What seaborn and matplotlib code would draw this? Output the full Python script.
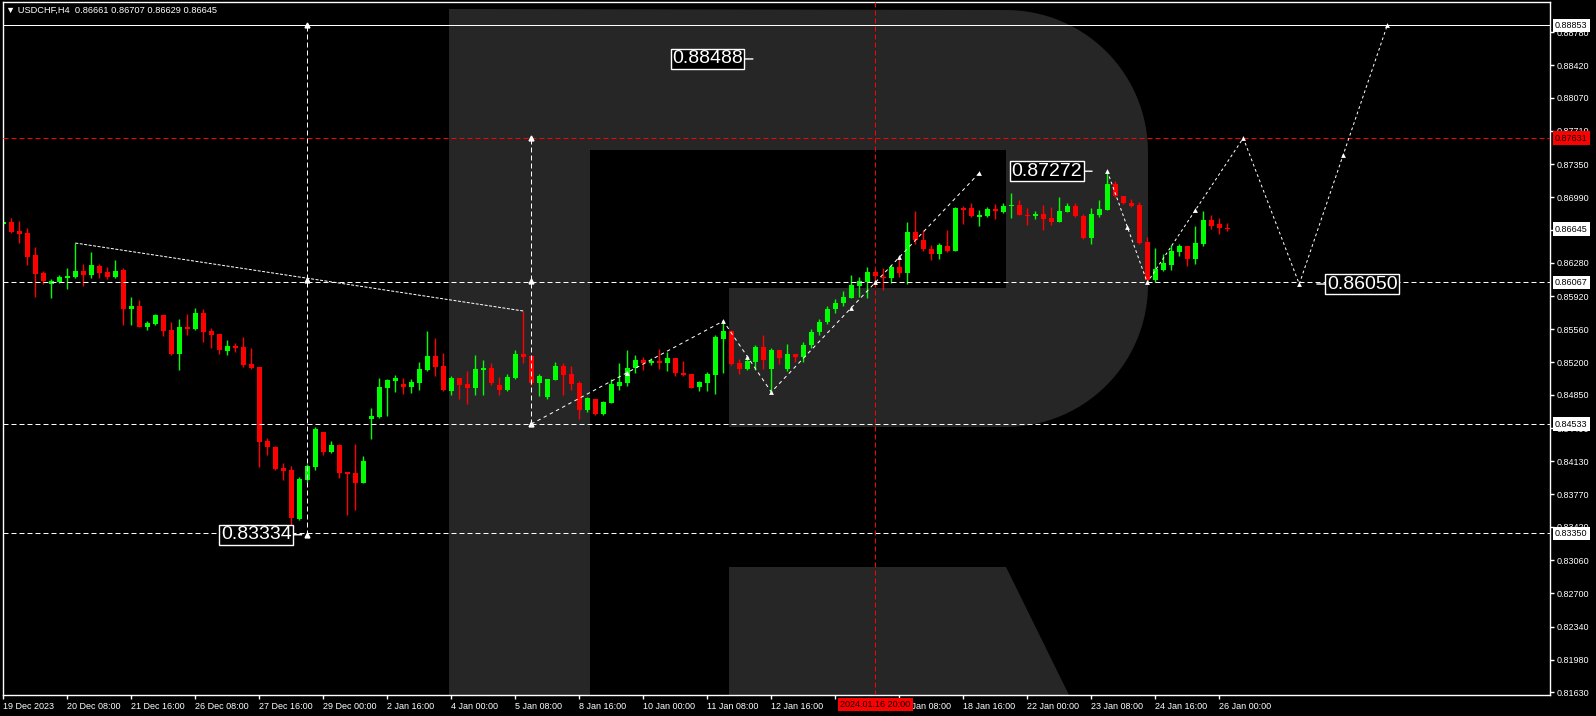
import numpy as np
import matplotlib
matplotlib.use("Agg")
import matplotlib.pyplot as plt
import matplotlib.transforms as mtransforms
from matplotlib.patches import Polygon
from matplotlib import font_manager
import seaborn as sns

# ---------------- data (USDCHF H4) ----------------
opens = [
    0.86700, 0.86722, 0.86624, 0.86602, 0.86364, 0.86169, 0.86050, 0.86072, 0.86115, 0.86126,
    0.86191, 0.86148, 0.86245, 0.86180, 0.86126, 0.86202, 0.85780, 0.85812, 0.85584, 0.85617,
    0.85715, 0.85552, 0.85292, 0.85584, 0.85562, 0.85736, 0.85541, 0.85509, 0.85325, 0.85379,
    0.85368, 0.85184, 0.85151, 0.84350, 0.84285, 0.84057, 0.84035, 0.83504, 0.83927, 0.84068,
    0.84447, 0.84231, 0.84307, 0.84014, 0.84003, 0.83895, 0.84588, 0.84610, 0.84924, 0.85000,
    0.84967, 0.84938, 0.84981, 0.85119, 0.85270, 0.85162, 0.84891, 0.85032, 0.84967, 0.84924,
    0.85119, 0.85140, 0.84957, 0.84902, 0.85032, 0.85292, 0.85270, 0.84978, 0.84826, 0.85011,
    0.85162, 0.85075, 0.84978, 0.84686, 0.84805, 0.84642, 0.84762, 0.84946, 0.84978, 0.85140,
    0.85227, 0.85194, 0.85216, 0.85194, 0.85249, 0.85086, 0.85075, 0.84935, 0.84978, 0.85065,
    0.85455, 0.85541, 0.85194, 0.85130, 0.85205, 0.85368, 0.85130, 0.85335, 0.85130, 0.85292,
    0.85259, 0.85390, 0.85530, 0.85639, 0.85780, 0.85845, 0.85902, 0.86032, 0.86072, 0.86180,
    0.86122, 0.86119, 0.86234, 0.86173, 0.86613, 0.86530, 0.86429, 0.86378, 0.86462, 0.86408,
    0.86870, 0.86870, 0.86779, 0.86790, 0.86859, 0.86830, 0.86899, 0.86910, 0.86790, 0.86784,
    0.86812, 0.86765, 0.86725, 0.86833, 0.86899, 0.86790, 0.86548, 0.86795, 0.86852, 0.87133,
    0.87003, 0.86927, 0.86906, 0.86505, 0.86093, 0.86202, 0.86256, 0.86397, 0.86462, 0.86321,
    0.86480, 0.86743, 0.86700, 0.86661]
highs = [
    0.86743, 0.86760, 0.86733, 0.86657, 0.86451, 0.86191, 0.86104, 0.86148, 0.86220, 0.86491,
    0.86267, 0.86397, 0.86267, 0.86234, 0.86310, 0.86224, 0.85909, 0.85877, 0.85650, 0.85726,
    0.85715, 0.85639, 0.85671, 0.85726, 0.85790, 0.85780, 0.85574, 0.85509, 0.85444, 0.85411,
    0.85476, 0.85357, 0.85151, 0.84382, 0.84296, 0.84111, 0.84079, 0.83960, 0.84100, 0.84501,
    0.84447, 0.84350, 0.84317, 0.84014, 0.84317, 0.84187, 0.84707, 0.85032, 0.85022, 0.85065,
    0.85029, 0.85018, 0.85205, 0.85541, 0.85466, 0.85303, 0.85054, 0.85032, 0.85108, 0.85281,
    0.85227, 0.85194, 0.85043, 0.85075, 0.85335, 0.85758, 0.85277, 0.85075, 0.85021, 0.85205,
    0.85194, 0.85162, 0.85000, 0.84826, 0.84805, 0.84783, 0.85021, 0.85194, 0.85335, 0.85281,
    0.85259, 0.85249, 0.85346, 0.85314, 0.85249, 0.85216, 0.85075, 0.85000, 0.85097, 0.85498,
    0.85660, 0.85552, 0.85238, 0.85270, 0.85390, 0.85498, 0.85357, 0.85335, 0.85400, 0.85292,
    0.85422, 0.85563, 0.85671, 0.85812, 0.85888, 0.85974, 0.86148, 0.86130, 0.86238, 0.86213,
    0.86224, 0.86256, 0.86332, 0.86722, 0.86841, 0.86635, 0.86472, 0.86494, 0.86635, 0.86884,
    0.86895, 0.86927, 0.86852, 0.86884, 0.86916, 0.86924, 0.87036, 0.86960, 0.86874, 0.86841,
    0.86906, 0.86884, 0.86993, 0.86931, 0.86927, 0.86812, 0.86870, 0.86960, 0.87272, 0.87166,
    0.87003, 0.86974, 0.86938, 0.86559, 0.86440, 0.86375, 0.86472, 0.86483, 0.86462, 0.86678,
    0.86841, 0.86797, 0.86765, 0.86707]
lows = [
    0.86686, 0.86606, 0.86497, 0.86256, 0.85909, 0.86050, 0.85898, 0.86064, 0.85996, 0.86119,
    0.86029, 0.86119, 0.86119, 0.86104, 0.86115, 0.85606, 0.85606, 0.85584, 0.85552, 0.85606,
    0.85487, 0.85281, 0.85119, 0.85498, 0.85552, 0.85422, 0.85357, 0.85292, 0.85281, 0.85314,
    0.85151, 0.85130, 0.84068, 0.84198, 0.84035, 0.83927, 0.83334, 0.83493, 0.83909, 0.84035,
    0.84198, 0.84220, 0.83948, 0.83548, 0.83602, 0.83895, 0.84371, 0.84599, 0.84621, 0.84881,
    0.84859, 0.84873, 0.84902, 0.85108, 0.85054, 0.84891, 0.84848, 0.84805, 0.84751, 0.84848,
    0.84848, 0.84957, 0.84848, 0.84891, 0.85021, 0.85194, 0.84957, 0.84837, 0.84805, 0.85011,
    0.84848, 0.84902, 0.84588, 0.84664, 0.84632, 0.84632, 0.84762, 0.84902, 0.84946, 0.85086,
    0.85119, 0.85173, 0.85130, 0.85108, 0.85054, 0.85054, 0.84924, 0.84891, 0.84891, 0.84859,
    0.85086, 0.85173, 0.85075, 0.85119, 0.85119, 0.85130, 0.84866, 0.85184, 0.85108, 0.85205,
    0.85205, 0.85357, 0.85498, 0.85617, 0.85736, 0.85812, 0.85902, 0.85913, 0.85902, 0.86018,
    0.85989, 0.86061, 0.86130, 0.86050, 0.86483, 0.86411, 0.86310, 0.86324, 0.86400, 0.86408,
    0.86697, 0.86773, 0.86682, 0.86773, 0.86751, 0.86816, 0.86762, 0.86795, 0.86690, 0.86751,
    0.86635, 0.86690, 0.86725, 0.86827, 0.86779, 0.86534, 0.86487, 0.86779, 0.86852, 0.86996,
    0.86913, 0.86888, 0.86483, 0.86067, 0.86070, 0.86191, 0.86202, 0.86354, 0.86245, 0.86267,
    0.86462, 0.86646, 0.86592, 0.86629]
closes = [
    0.86725, 0.86613, 0.86595, 0.86343, 0.86162, 0.86083, 0.86083, 0.86126, 0.86137, 0.86191,
    0.86148, 0.86256, 0.86169, 0.86126, 0.86191, 0.85780, 0.85812, 0.85584, 0.85628, 0.85715,
    0.85541, 0.85292, 0.85584, 0.85562, 0.85736, 0.85530, 0.85498, 0.85335, 0.85379, 0.85357,
    0.85173, 0.85140, 0.84339, 0.84285, 0.84046, 0.84024, 0.83515, 0.83938, 0.84079, 0.84480,
    0.84231, 0.84307, 0.84003, 0.83992, 0.83895, 0.84133, 0.84621, 0.84935, 0.85011, 0.85032,
    0.84938, 0.84989, 0.85130, 0.85270, 0.85155, 0.84902, 0.85032, 0.84957, 0.84924, 0.85130,
    0.85140, 0.84978, 0.84902, 0.85043, 0.85292, 0.85259, 0.84978, 0.85054, 0.85021, 0.85162,
    0.85065, 0.84967, 0.84686, 0.84816, 0.84642, 0.84772, 0.84967, 0.84989, 0.85144, 0.85227,
    0.85194, 0.85216, 0.85194, 0.85249, 0.85086, 0.85065, 0.84924, 0.84989, 0.85075, 0.85476,
    0.85541, 0.85184, 0.85130, 0.85216, 0.85368, 0.85227, 0.85335, 0.85249, 0.85292, 0.85259,
    0.85390, 0.85530, 0.85639, 0.85780, 0.85845, 0.85913, 0.86040, 0.86083, 0.86180, 0.86137,
    0.86115, 0.86234, 0.86173, 0.86613, 0.86530, 0.86433, 0.86378, 0.86472, 0.86411, 0.86870,
    0.86852, 0.86790, 0.86801, 0.86859, 0.86838, 0.86892, 0.86910, 0.86801, 0.86784, 0.86812,
    0.86758, 0.86725, 0.86841, 0.86899, 0.86787, 0.86548, 0.86808, 0.86863, 0.87133, 0.87003,
    0.86924, 0.86899, 0.86494, 0.86093, 0.86213, 0.86278, 0.86408, 0.86462, 0.86321, 0.86494,
    0.86743, 0.86682, 0.86657, 0.86645]

time_tick_pos = [0, 8, 16, 24, 32, 40, 48, 56, 64, 72, 80, 88, 96, 104, 112, 120, 128, 136, 144, 152]
time_tick_labels = ["19 Dec 2023", "20 Dec 08:00", "21 Dec 16:00", "26 Dec 08:00", "27 Dec 16:00",
                    "29 Dec 00:00", "2 Jan 16:00", "4 Jan 00:00", "5 Jan 08:00", "8 Jan 16:00",
                    "10 Jan 00:00", "11 Jan 08:00", "12 Jan 16:00", "", "17 Jan 08:00",
                    "18 Jan 16:00", "22 Jan 00:00", "23 Jan 08:00", "24 Jan 16:00", "26 Jan 00:00"]
price_ticks = [0.88780, 0.88420, 0.88070, 0.87710, 0.87350, 0.86990, 0.86630, 0.86280, 0.85920,
               0.85560, 0.85200, 0.84850, 0.84490, 0.84130, 0.83770, 0.83420, 0.83060, 0.82700,
               0.82340, 0.81980, 0.81630]
hidden_price_ticks = [0.86630]

# analysis drawings
top_level = 0.88853
bid_level = 0.87631
support_levels = [0.86067, 0.84533, 0.83350]
cursor_index = 109
cursor_label = "2024.01.16 20:00"
vert_lines = [(38, 0.83334, 0.88853), (66, 0.84533, 0.87631)]
trend_x = [9, 65]
trend_y = [0.86494, 0.85758]
waveA_x = [66, 90, 96, 122]
waveA_y = [0.84533, 0.85649, 0.84880, 0.87253]
waveA_mark_x = [66, 78, 90, 93, 96, 106, 109, 112, 122]
forecast_x = [138, 143, 155, 162, 173]
forecast_y = [0.87272, 0.86067, 0.87631, 0.86050, 0.88853]
forecast_mark_x = [138, 140.5, 143, 149, 155, 162, 167.5, 173]
big_labels = [("0.88488", 93.7, 0.88488, "left"), ("0.87272", 136.1, 0.87272, "left"),
              ("0.83334", 37.3, 0.83334, "left"), ("0.86050", 164.2, 0.86050, "right")]
axis_boxes = [(0.88853, "white"), (0.87631, "#ff0000"), (0.86645, "white"),
              (0.86067, "white"), (0.84533, "white"), (0.83350, "white")]
header = "\u25BC USDCHF,H4  0.86661 0.86707 0.86629 0.86645"

# ---------------- style ----------------
sns.set_theme(style="dark")
plt.rcParams['font.family'] = ['Liberation Sans', 'DejaVu Sans']
plt.rcParams['axes.facecolor'] = 'black'
plt.rcParams['figure.facecolor'] = 'black'

names = {f.name for f in font_manager.fontManager.ttflist}
if 'Liberation Sans Narrow' in names:
    big_family, big_size = ['Liberation Sans Narrow', 'DejaVu Sans'], 17
else:
    big_family, big_size = ['Liberation Sans', 'DejaVu Sans'], 14

W, H = 1596, 716
fig = plt.figure(figsize=(W / 100, H / 100), dpi=100, facecolor='black')
ax = fig.add_axes([2.5 / W, 21 / H, 1547.5 / W, 693 / H])
ax.set_facecolor('black')
ax.set_xlim(-0.1, 193.34)
ax.set_ylim(0.81598, 0.89105)
for s in ax.spines.values():
    s.set_color('white')
    s.set_linewidth(1)
ax.grid(False)

# watermark (decorative logo, in pixel space of the plot frame)
def pxax(pts):
    return [((px - 2.5) / 1547.5, (695 - py) / 693) for px, py in pts]

t1 = np.linspace(np.pi / 2, 0, 30)
t2 = np.linspace(0, -np.pi / 2, 30)
arc1 = [(1006 + 142 * np.cos(t), 152 - 142 * np.sin(t)) for t in t1]
arc2 = [(1006 + 142 * np.cos(t), 285 - 142 * np.sin(t)) for t in t2]
outer = [(449, 9)] + arc1 + arc2 + [(729, 427), (729, 288), (1006, 288), (1006, 150),
                                     (590, 150), (590, 695), (449, 695)]
leg = [(729, 567), (1006, 567), (1069, 695), (729, 695)]
for pts in (outer, leg):
    ax.add_patch(Polygon(pxax(pts), closed=True, transform=ax.transAxes,
                         facecolor='#262626', edgecolor='none', zorder=0.5))

# candles
idx = np.arange(len(closes))
o = np.array(opens); h = np.array(highs); l = np.array(lows); c = np.array(closes)
cols = np.where(c >= o, '#00ff00', '#ff0000')
ax.vlines(idx, l, h, colors=cols, linewidth=1, zorder=2)
ax.bar(idx, np.maximum(np.abs(c - o), 0.00012), bottom=np.minimum(o, c), width=0.62,
       color=cols, linewidth=0, zorder=2.2)

# horizontal levels
lw = 0.72
ax.axhline(top_level, color='white', lw=lw, zorder=3)
ax.axhline(bid_level, color='#ff0000', lw=lw, ls=(0, (5, 3)), zorder=3)
for lev in support_levels:
    ax.axhline(lev, color='white', lw=lw, ls=(0, (5, 3)), zorder=3)
ax.axvline(cursor_index, color='#ff0000', lw=lw, ls=(0, (5, 3)), zorder=3)

# vertical measure lines
for xv, y0, y1 in vert_lines:
    ax.vlines(xv, y0, y1, color='white', lw=lw, linestyles=[(0, (5, 3))], zorder=3)
    ax.plot([xv] * 3, [y0, (y0 + y1) / 2, y1], ls='none', marker='^', ms=3.5,
            color='white', zorder=4)

# trend line (dotted)
sns.lineplot(x=trend_x, y=trend_y, ax=ax, color='white', lw=lw, linestyle=(0, (3, 1.5)),
             sort=False, estimator=None, zorder=3)

# wave A
sns.lineplot(x=waveA_x, y=waveA_y, ax=ax, color='white', lw=lw, linestyle=(0, (3.5, 3.5)),
             sort=False, estimator=None, zorder=3)
ay = np.interp(waveA_mark_x, waveA_x, waveA_y)
sns.scatterplot(x=waveA_mark_x, y=ay, ax=ax, color='white', marker='^', s=12,
                linewidth=0, zorder=4)

# forecast path
sns.lineplot(x=forecast_x, y=forecast_y, ax=ax, color='white', lw=lw, linestyle=(0, (2.8, 2.8)),
             sort=False, estimator=None, zorder=3)
fy = np.interp(forecast_mark_x, forecast_x, forecast_y)
sns.scatterplot(x=forecast_mark_x, y=fy, ax=ax, color='white', marker='^', s=12,
                linewidth=0, zorder=4)

# big price labels
for txt, xv, yv, side in big_labels:
    off = -10 if side == 'left' else 10
    ax.annotate(txt, xy=(xv, yv), xytext=(off, 0), textcoords='offset pixels',
                ha='right' if side == 'left' else 'left', va='center',
                fontsize=big_size, color='white', family=big_family,
                bbox=dict(boxstyle='square,pad=0.08', fc='black', ec='white', lw=1),
                arrowprops=dict(arrowstyle='-', color='white', lw=1, shrinkA=0, shrinkB=0),
                zorder=6)

# right price axis
ax.yaxis.tick_right()
ax.set_yticks(price_ticks)
ax.set_yticklabels(["" if v in hidden_price_ticks else f"{v:.5f}" for v in price_ticks])
ax.tick_params(axis='y', colors='white', length=3, width=1, pad=2, labelsize=6.5,
               right=True, left=False, direction='out')
trans_y = mtransforms.blended_transform_factory(ax.transAxes, ax.transData)
for val, fc in axis_boxes:
    ax.text(1.0 + 5 / 1547.5, val, f"{val:.5f}", transform=trans_y, ha='left', va='center',
            fontsize=6.5, color='black',
            bbox=dict(boxstyle='square,pad=0.25', fc=fc, ec='none'), clip_on=False, zorder=7)

# time axis
ax.set_xticks(time_tick_pos)
ax.set_xticklabels(time_tick_labels)
ax.tick_params(axis='x', colors='white', length=3, width=1, pad=2, labelsize=6.5,
               bottom=True, direction='out')
for lb in ax.get_xticklabels():
    lb.set_ha('left')
trans_x = mtransforms.blended_transform_factory(ax.transData, ax.transAxes)
ax.text(cursor_index, -9.5 / 693, cursor_label, transform=trans_x, ha='center', va='center',
        fontsize=6.5, color='black', bbox=dict(boxstyle='square,pad=0.25', fc='#ff0000', ec='none'),
        clip_on=False, zorder=8)

# header
ax.text(4 / 1547.5, (695 - 10) / 693, header, transform=ax.transAxes, ha='left', va='center',
        fontsize=6.7, color='white', zorder=8)

fig.savefig('out.png', dpi=100, facecolor='black')
